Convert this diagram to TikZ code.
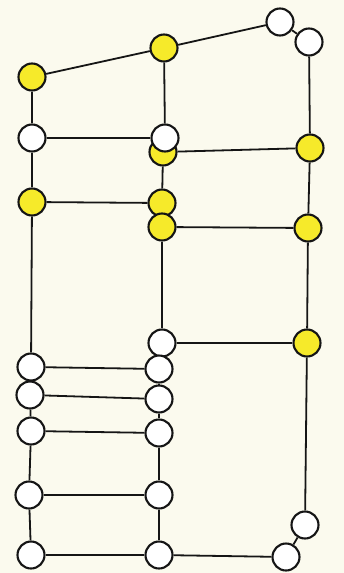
\documentclass[tikz,border=0pt]{standalone}
\usepackage{xcolor}
\usetikzlibrary{backgrounds}
\definecolor{paper}{HTML}{FBFAEE}
\definecolor{lamp}{HTML}{F6EA2A}
\definecolor{ink}{HTML}{151515}

\begin{document}
\begin{tikzpicture}[
  x=1pt,y=-1pt,
  joint/.style={circle,draw=ink,line width=2.1pt,fill=white,minimum size=27pt,inner sep=0pt},
  lit/.style={joint,fill=lamp},
  bar/.style={draw=ink,line width=1.8pt}
]
  \useasboundingbox (0,0) rectangle (344,573);

  % top row
  \node[joint] (tr1) at (280,22) {};
  \node[joint] (tr2) at (309,42) {};
  \node[lit] (tm) at (164,48) {};
  \node[lit] (tl) at (32,77) {};

  % upper rows
  \node[lit] (mb) at (163,152) {};
  \node[joint] (ma) at (165,138) {};
  \node[joint] (la) at (32,138) {};
  \node[lit] (ra) at (310,148) {};
  \node[lit] (lb) at (32,202) {};
  \node[lit] (mc) at (162,203) {};
  \node[lit] (md) at (162,227) {};
  \node[lit] (rb) at (308,228) {};
  \node[joint] (me) at (162,343) {};
  \node[lit] (rc) at (307,343) {};

  % lower ladder
  \node[joint] (lc) at (31,367) {};
  \node[joint] (mf) at (159,369) {};
  \node[joint] (ld) at (30,395) {};
  \node[joint] (mg) at (159,399) {};
  \node[joint] (le) at (31,431) {};
  \node[joint] (mh) at (159,433) {};
  \node[joint] (lf) at (29,495) {};
  \node[joint] (mi) at (159,495) {};
  \node[joint] (lg) at (31,555) {};
  \node[joint] (mj) at (159,555) {};
  \node[joint] (rd) at (286,557) {};
  \node[joint] (re) at (305,525) {};

  \begin{scope}[on background layer]
    \fill[paper] (0,0) rectangle (344,573);
    \draw[bar] (tl) -- (tm);
    \draw[bar] (tm) -- (tr1);
    \draw[bar] (tr1) -- (tr2);
    \draw[bar] (tr2) -- (ra);
    \draw[bar] (tl) -- (la);
    \draw[bar] (tm) -- (ma);
    \draw[bar] (la) -- (ma);
    \draw[bar] (mb) -- (ra);
    \draw[bar] (la) -- (lb);
    \draw[bar] (mb) -- (mc);
    \draw[bar] (lb) -- (mc);
    \draw[bar] (md) -- (rb);
    \draw[bar] (ra) -- (rb);
    \draw[bar] (md) -- (me);
    \draw[bar] (rb) -- (rc);
    \draw[bar] (me) -- (rc);
    \draw[bar] (lb) -- (lc);
    \draw[bar] (lc) -- (mf);
    \draw[bar] (lc) -- (ld);
    \draw[bar] (mf) -- (mg);
    \draw[bar] (ld) -- (mg);
    \draw[bar] (ld) -- (le);
    \draw[bar] (mg) -- (mh);
    \draw[bar] (le) -- (mh);
    \draw[bar] (le) -- (lf);
    \draw[bar] (mh) -- (mi);
    \draw[bar] (lf) -- (mi);
    \draw[bar] (lf) -- (lg);
    \draw[bar] (mi) -- (mj);
    \draw[bar] (lg) -- (mj);
    \draw[bar] (mj) -- (rd);
    \draw[bar] (rd) -- (re);
    \draw[bar] (re) -- (rc);
  \end{scope}
\end{tikzpicture}
\end{document}
